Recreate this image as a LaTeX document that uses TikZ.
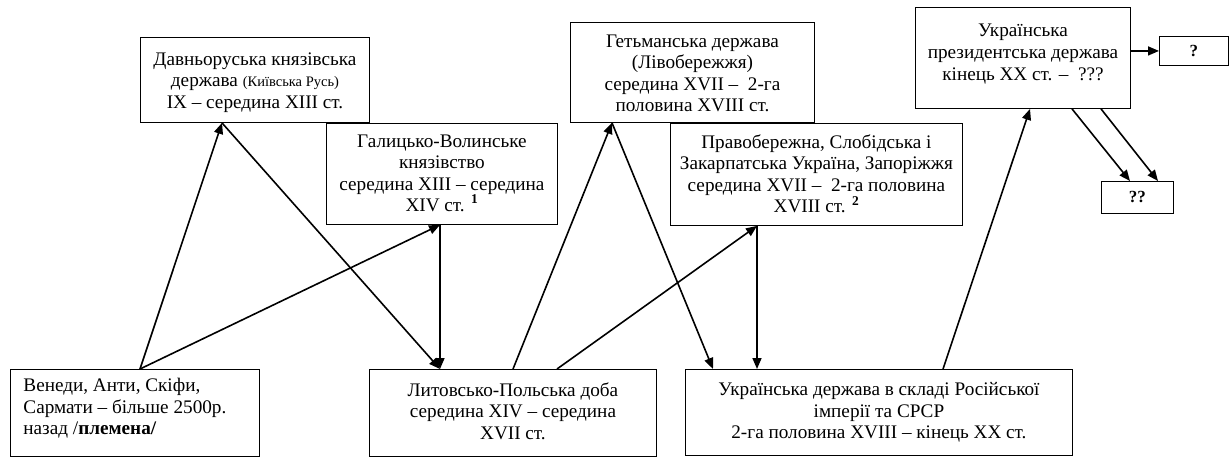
\documentclass[tikz,border=0pt]{standalone}
\usepackage{fontspec}
\setmainfont{Liberation Serif}
\usetikzlibrary{arrows.meta}
\newcommand{\bxc}[4]{\parbox[c][#2][t]{#1}{\centering\vspace*{#3}#4\par}}
\newcommand{\bxl}[4]{\parbox[c][#2][t]{#1}{\raggedright\leftskip=13pt\vspace*{#3}#4\par}}
\tikzset{
  box/.style={draw, line width=0.9pt, fill=white, inner sep=0pt, anchor=north west, font=\fontsize{19.2}{21.5}\selectfont},
  qbox/.style={draw, line width=0.9pt, fill=white, inner sep=0pt, anchor=north west, font=\fontsize{17}{19}\selectfont\bfseries},
  arr/.style={line width=1.6pt, -{Triangle[length=11pt,width=9pt]}}
}
\begin{document}
\begin{tikzpicture}[x=1pt,y=-1pt]
\useasboundingbox (0,0) rectangle (1230,457);
% boxes
\node[box] (b1) at (140,37) {\bxc{229pt}{85pt}{15pt}{Давньоруська князівська\\держава {\fontsize{14.5}{21.5}\selectfont(Київська Русь)}\\IX – середина XIII ст.}};
\node[box] (gal) at (326,123) {\bxc{231pt}{101pt}{11pt}{Галицько-Волинське\\князівство\\середина XIII – середина\\XIV ст. \textsuperscript{\textbf{1}}}};
\node[box] (het) at (570,22) {\bxc{244pt}{100pt}{12pt}{Гетьманська держава\\(Лівобережжя)\\середина XVII – ~2-га\\половина XVIII ст.}};
\node[box] (prav) at (670,123) {\bxc{292pt}{102pt}{11pt}{Правобережна, Слобідська і\\Закарпатська Україна, Запоріжжя\\середина XVII – ~2-га половина\\XVIII ст. \textsuperscript{\textbf{2}}}};
\node[box] (pres) at (915,7) {\bxc{215pt}{101pt}{16pt}{Українська\\{\fontsize{19.2}{22.5}\selectfont президентська держава\\кінець XX ст. – ~???}}};
\node[qbox, minimum width=69pt, minimum height=29pt] (q) at (1159,36) {?};
\node[qbox, minimum width=72pt, minimum height=32pt] (qq) at (1101,181) {??};
\node[box] (ven) at (10,369) {\bxl{249pt}{87pt}{9pt}{Венеди, Анти, Скіфи,\\Сармати – більше 2500р.\\назад /\textbf{племена/}}};
\node[box] (lit) at (369,369) {\bxc{287pt}{87pt}{13pt}{Литовсько-Польська доба\\середина XIV – середина\\XVII ст.}};
\node[box] (ukr) at (685,369) {\bxc{387pt}{86pt}{13pt}{Українська держава в складі Російської\\імперії та СРСР\\2-га половина XVIII – кінець XX ст.}};
% connectors
\draw[arr] ([xshift=130pt]ven.north west) -- ([xshift=82pt]b1.south west);
\draw[arr] ([xshift=130pt]ven.north west) -- ([xshift=114pt]gal.south west);
\draw[arr] ([xshift=82pt]b1.south west) -- ([xshift=71pt]lit.north west);
\draw[arr] ([xshift=114pt]gal.south west) -- ([xshift=71pt]lit.north west);
\draw[arr] ([xshift=144pt]lit.north west) -- ([xshift=42pt]het.south west);
\draw[arr] ([xshift=188pt]lit.north west) -- ([xshift=87pt]prav.south west);
\draw[arr] ([xshift=42pt]het.south west) -- ([xshift=28pt]ukr.north west);
\draw[arr] ([xshift=87pt]prav.south west) -- ([xshift=72pt]ukr.north west);
\draw[arr] ([xshift=258pt]ukr.north west) -- ([xshift=115pt]pres.south west);
\draw[arr] (pres.east |- q.west) -- (q.west);
\draw[arr] ([xshift=157pt]pres.south west) -- ([xshift=29pt]qq.north west);
\draw[arr] ([xshift=186pt]pres.south west) -- ([xshift=57pt]qq.north west);
\end{tikzpicture}
\end{document}
